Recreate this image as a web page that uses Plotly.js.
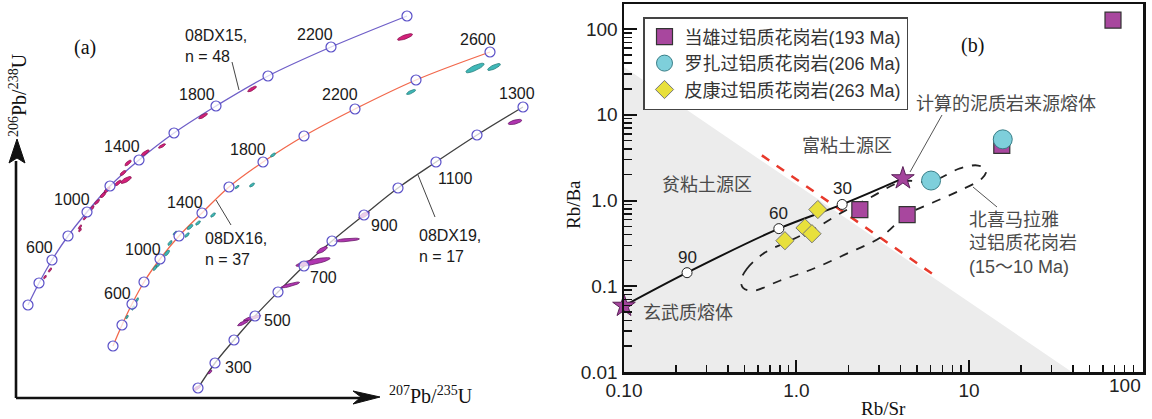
<!DOCTYPE html>
<html><head><meta charset="utf-8">
<script src="https://cdn.plot.ly/plotly-3.0.1.min.js"></script>
<style>html,body{margin:0;padding:0;background:#fff;}#plot{width:1152px;height:419px;}</style>
</head><body><div id="plot"></div>
<script>
// ---------- Panel (a): schematic concordia diagrams (arbitrary plot units, no scale) ----------
const ages15 = [200,400,600,800,1000,1200,1400,1600,1800,2000,2200,2400];
const x15 = [28,39,52,68,87,110,139,174,216,268,331,407];
const y15 = [114,136,159,183,207,233,259,286,313,343,372,403];
const ages16 = [200,400,600,800,1000,1200,1400,1600,1800,2000,2200,2400,2600];
const x16 = [113,122,132,144,160,179,202,229,263,304,355,416,490];
const y16 = [73,94,115,137,160,183,206,232,257,283,310,339,367];
const ages19 = [200,300,400,500,600,700,800,900,1000,1100,1200,1300];
const x19 = [198,215,234,255,278,304,332,364,398,436,477,523];
const y19 = [31,56,79,103,127,153,178,204,231,257,284,312];

// labelled ages and label positions
const lab15 = ["600","1000","1400","1800","2200"];
const lab15x = [39,72,122,197,315];
const lab15y = [172,220,273,325,385];
const lab16 = ["600","1000","1400","1800","2200","2600"];
const lab16x = [117,143,185,248,340,478];
const lab16y = [126,170,217,270,325,380];
const lab19 = ["300","500","700","900","1100","1300"];
const lab19x = [238,277,323,384,455,517];
const lab19y = [52,99,142,194,241,326];

// analysis ellipses: centre x, centre y, length, width, angle
const e15x = [405,252,203,162,145,128,123,126,118,107,103,97,92,85,80,80,50,45];
const e15y = [382,330,303,273,266,256,246,239,236,229,224,217,211,201,192,189,149,142];
const e15l = [16,10,10,8,10,8,7,12,8,8,7,7,6,5,5,4,5,4];
const e15w = [4,3,3,2.5,3,3,3,4,3,3,3,2.5,2.5,2,2,2,2,2];
const e15a = [20,30,30,30,35,40,40,30,40,45,45,45,50,50,55,55,55,55];

const e16x = [475,494,411,273,252,237,213,198,190,187,175,170,167,158,155,137,133,127];
const e16y = [351,352,327,264,234,232,204,196,192,184,186,176,166,154,151,119,111,102];
const e16l = [20,14,10,6,6,5,6,6,7,6,5,6,7,6,6,5,5,4];
const e16w = [5,4,3,2.5,2.5,2,2.5,2.5,3,2.5,2,2.5,3,2.5,2.5,2,2,2];
const e16a = [25,25,25,35,35,35,40,40,40,45,45,50,50,50,55,60,60,60];

const e19x = [515,364,347,322,313,290,252,243,210,197];
const e19y = [297,204,179,169,157,134,101,96,47,31];
const e19l = [14,12,25,12,35,20,18,12,5,8];
const e19w = [4,4,3,4,5,3,3,3,2,3];
const e19a = [15,30,5,30,12,15,15,25,45,30];

const sampleNames = ["08DX15,<br>n = 48","08DX16,<br>n = 37","08DX19,<br>n = 17"];

// ---------- Panel (b): Rb/Sr vs Rb/Ba ----------
const dxRbSr = [68.4, 15.5, 2.33, 4.38];
const dxRbBa = [127, 4.4, 0.785, 0.686];
const lzRbSr = [15.7, 6.03];
const lzRbBa = [5.17, 1.71];
const pkRbSr = [1.33, 0.857, 1.12, 1.23];
const pkRbBa = [0.785, 0.34, 0.48, 0.41];
const mixRbSr = [0.1, 0.232, 0.79, 1.84, 4.14];
const mixRbBa = [0.059, 0.144, 0.47, 0.90, 1.81];
const mixPctRbSr = [0.232, 0.79, 1.84];
const mixPctRbBa = [0.144, 0.47, 0.90];
const mixPct = ["90","60","30"];
const endRbSr = [0.1, 4.14];
const endRbBa = [0.059, 1.81];
const nhRbSr = [0.477,0.516,0.656,0.916,1.28,1.79,2.67,4.14,6.02,8.87,11.3,12.6,11.9,8.87,6.18,4.38,3.05,1.96,1.25,0.80,0.560,0.490,0.477];
const nhRbBa = [0.116,0.160,0.247,0.340,0.471,0.705,1.08,1.67,1.67,2.37,2.56,2.24,1.81,1.31,0.948,0.686,0.369,0.240,0.160,0.116,0.0885,0.096,0.116];
const clayRbSr = [0.1, 39.5, 0.1, 0.1];
const clayRbBa = [36, 0.01, 0.01, 36];
const divRbSr = [0.63, 6.35];
const divRbBa = [3.36, 0.133];
const legendNames = ["当雄过铝质花岗岩(193 Ma)","罗扎过铝质花岗岩(206 Ma)","皮康过铝质花岗岩(263 Ma)"];
const xTickVals = [0.1, 1, 10];
const xTickText = ["0.10", "1.0", "10"];
const xLastTickVal = 100;
const xLastTickText = "100";
const yTickVals = [0.01, 0.1, 1, 10, 100];
const yTickText = ["0.01", "0.1", "1.0", "10", "100"];

// ---------- helpers ----------
const W = 1152, H = 419;
const px = v => v / W, py = v => 1 - v / H;
function ellipses(cx, cy, L, Wd, A){
  const X = [], Y = [];
  for (let i = 0; i < cx.length; i++){
    const a = L[i]/2, b = Wd[i]/2, t = A[i]*Math.PI/180;
    for (let k = 0; k <= 24; k++){
      const s = 2*Math.PI*k/24;
      const ex = a*Math.cos(s), ey = b*Math.sin(s);
      X.push(cx[i] + ex*Math.cos(t) - ey*Math.sin(t));
      Y.push(cy[i] + ex*Math.sin(t) + ey*Math.cos(t));
    }
    X.push(null); Y.push(null);
  }
  return {X, Y};
}
const SANS = "Liberation Sans, Arial, Noto Sans CJK SC, sans-serif";
const CJK = "Liberation Sans, Noto Sans CJK SC, sans-serif";
const SERIF = "Liberation Serif, Times New Roman, serif";

const traces = [];
function ellTrace(cx, cy, L, Wd, A, fill, line){
  const e = ellipses(cx, cy, L, Wd, A);
  traces.push({x:e.X, y:e.Y, xaxis:'x', yaxis:'y', mode:'lines', fill:'toself', fillcolor:fill,
    line:{color:line, width:0.8}, showlegend:false, hoverinfo:'skip'});
}
function curveTrace(x, y, color){
  traces.push({x, y, xaxis:'x', yaxis:'y', mode:'lines', line:{color, width:1.3, shape:'spline'},
    showlegend:false, hoverinfo:'skip'});
}
curveTrace(x15, y15, '#6f5fc8');
curveTrace(x16, y16, '#f2684c');
curveTrace(x19, y19, '#404040');
ellTrace(e15x, e15y, e15l, e15w, e15a, '#d4207a', '#8a1450');
ellTrace(e16x, e16y, e16l, e16w, e16a, '#3fb8b8', '#24807e');
ellTrace(e19x, e19y, e19l, e19w, e19a, '#b035b0', '#6a1a6a');
[[x15,y15],[x16,y16],[x19,y19]].forEach(d => traces.push({x:d[0], y:d[1], xaxis:'x', yaxis:'y', mode:'markers',
  marker:{symbol:'circle', size:10, color:'rgba(255,255,255,0.75)', line:{color:'#5a50c8', width:1.2}}, showlegend:false, hoverinfo:'skip'}));

// panel b traces
traces.push({x:clayRbSr, y:clayRbBa, xaxis:'x2', yaxis:'y2', mode:'lines', fill:'toself', fillcolor:'#ececec',
  line:{width:0, color:'rgba(0,0,0,0)'}, showlegend:false, hoverinfo:'skip'});
traces.push({x:divRbSr, y:divRbBa, xaxis:'x2', yaxis:'y2', mode:'lines', line:{color:'#e8392b', width:2.5, dash:'dash'}, showlegend:false, hoverinfo:'skip'});
traces.push({x:nhRbSr, y:nhRbBa, xaxis:'x2', yaxis:'y2', mode:'lines', line:{color:'#222', width:1.8, dash:'dash', shape:'spline'}, showlegend:false, hoverinfo:'skip'});
traces.push({x:mixRbSr, y:mixRbBa, xaxis:'x2', yaxis:'y2', mode:'lines', line:{color:'#111', width:2, shape:'spline'}, showlegend:false, hoverinfo:'skip'});
traces.push({x:mixPctRbSr, y:mixPctRbBa, xaxis:'x2', yaxis:'y2', mode:'markers',
  marker:{symbol:'circle', size:10, color:'#fff', line:{color:'#222', width:1}}, showlegend:false, hoverinfo:'skip', cliponaxis:false});
traces.push({x:endRbSr, y:endRbBa, xaxis:'x2', yaxis:'y2', mode:'markers', marker:{symbol:'star', size:17, color:'#a4449c', line:{color:'#5a2058', width:1}}, showlegend:false, hoverinfo:'skip', cliponaxis:false});
traces.push({x:dxRbSr, y:dxRbBa, xaxis:'x2', yaxis:'y2', mode:'markers', name:legendNames[0],
  marker:{symbol:'square', size:16, color:'#a8479e', line:{color:'#333', width:1.2}}, hoverinfo:'skip', cliponaxis:false});
traces.push({x:lzRbSr, y:lzRbBa, xaxis:'x2', yaxis:'y2', mode:'markers', name:legendNames[1],
  marker:{symbol:'circle', size:19, color:'#7ecfdb', line:{color:'#3a7f88', width:1}}, hoverinfo:'skip', cliponaxis:false});
traces.push({x:pkRbSr, y:pkRbBa, xaxis:'x2', yaxis:'y2', mode:'markers', name:legendNames[2],
  marker:{symbol:'diamond', size:14, color:'#e8e03c', line:{color:'#777', width:1}}, hoverinfo:'skip', cliponaxis:false});

// ---------- annotations ----------
const ann = [];
function a(x, y, t, o){ ann.push(Object.assign({x, y, text:t, showarrow:false, xref:'x', yref:'y',
  xanchor:'center', yanchor:'middle', font:{family:SANS, size:16, color:'#1a1a1a'}}, o||{})); }
lab15.forEach((t,i)=>a(lab15x[i], lab15y[i], t));
lab16.forEach((t,i)=>a(lab16x[i], lab16y[i], t));
lab19.forEach((t,i)=>a(lab19x[i], lab19y[i], t));
a(183, 394, sampleNames[0], {xanchor:'left', yanchor:'top', align:'left'});
a(203, 191, sampleNames[1], {xanchor:'left', yanchor:'top', align:'left'});
a(417, 194, sampleNames[2], {xanchor:'left', yanchor:'top', align:'left'});
a(85, 372, "(a)", {font:{family:SERIF, size:20, color:'#111'}});
a(18, 324, "<sup>206</sup>Pb/<sup>238</sup>U", {textangle:-90, font:{family:SERIF, size:20, color:'#111'}});
a(431, 24, "<sup>207</sup>Pb/<sup>235</sup>U", {font:{family:SERIF, size:20, color:'#111'}});

// mixing percentages, tied to the data points
mixPct.forEach((t,i)=>ann.push({x:Math.log10(mixPctRbSr[i]), y:Math.log10(mixPctRbBa[i]), xref:'x2', yref:'y2',
  text:t, showarrow:false, xanchor:'center', yanchor:'bottom', yshift:4, font:{family:SANS, size:17, color:'#222'}}));
// rightmost x tick label, right-aligned to its tick so it stays on the page
ann.push({x:Math.log10(xLastTickVal), y:py(385), xref:'x2', yref:'paper', text:xLastTickText, showarrow:false,
  xanchor:'right', xshift:2, yanchor:'middle', font:{family:SANS, size:19, color:'#222'}});

function p(x, y, t, o){ ann.push(Object.assign({x:px(x), y:py(y), text:t, showarrow:false, xref:'paper', yref:'paper',
  xanchor:'center', yanchor:'middle', font:{family:CJK, size:18, color:'#4a4a4a'}}, o||{})); }
p(972, 45, "(b)", {font:{family:SERIF, size:20, color:'#111'}});
p(847, 146, "富粘土源区");
p(707, 185, "贫粘土源区");
p(688, 313, "玄武质熔体");
p(1006, 104, "计算的泥质岩来源熔体");
p(967, 208, "北喜马拉雅<br>过铝质花岗岩<br>(15～10 Ma)", {xanchor:'left', yanchor:'top', align:'left'});
p(573, 205, "Rb/Ba", {textangle:-90, font:{family:SERIF, size:19, color:'#111'}});
p(883, 408, "Rb/Sr", {font:{family:SERIF, size:19, color:'#111'}});

// ---------- shapes ----------
const shapes = [];
function ln(x0,y0,x1,y1,c,w){ shapes.push({type:'line', xref:'x', yref:'y', x0,y0,x1,y1, line:{color:c, width:w}}); }
ln(16, 21, 16, 258, '#111', 2.6);
ln(16, 21, 362, 21, '#111', 2.6);
shapes.push({type:'path', xref:'x', yref:'y', path:'M17,280 L25,256 L17,261 L9,256 Z', fillcolor:'#111', line:{color:'#111', width:1}});
shapes.push({type:'path', xref:'x', yref:'y', path:'M380,22 L353,28 L361,22 L353,15 Z', fillcolor:'#111', line:{color:'#111', width:1}});
ln(232, 357, 239, 329, '#444', 1);
ln(231, 194, 216, 219, '#444', 1);
ln(435, 202, 418, 244, '#444', 1);
function lp(x0,y0,x1,y1){ shapes.push({type:'line', xref:'paper', yref:'paper', x0:px(x0), y0:py(y0), x1:px(x1), y1:py(y1), line:{color:'#555', width:1}}); }
lp(910, 172, 942, 115);
lp(973, 187, 997, 207);

function minorVals(lo, hi){ const v=[]; for(let e=lo;e<hi;e++) for(let m=2;m<=9;m++) v.push(m*Math.pow(10,e)); return v; }

const layout = {
  width: W, height: H, margin:{l:0, r:0, t:0, b:0, autoexpand:false}, paper_bgcolor:'#ffffff', plot_bgcolor:'rgba(0,0,0,0)',
  showlegend: true,
  xaxis:{domain:[0, 560/W], range:[0,560], visible:false, fixedrange:true},
  yaxis:{domain:[0,1], range:[0,419], visible:false, fixedrange:true},
  xaxis2:{domain:[624/W, 1143/W], type:'log', range:[-1, 2.009], anchor:'y2',
    showline:true, mirror:true, linecolor:'#111', linewidth:2.5, showgrid:false, zeroline:false,
    ticks:'inside', ticklen:12, tickwidth:2, tickcolor:'#111',
    tickmode:'array', tickvals:xTickVals, ticktext:xTickText,
    tickfont:{family:SANS, size:19, color:'#222'},
    minor:{tickmode:'array', tickvals:minorVals(-1,2), ticks:'inside', ticklen:7, tickwidth:1.5, tickcolor:'#111', showgrid:false}},
  yaxis2:{domain:[1-372/H, 1-4/H], type:'log', range:[-2, 2.292], anchor:'x2',
    showline:true, mirror:true, linecolor:'#111', linewidth:2.5, showgrid:false, zeroline:false,
    ticks:'inside', ticklen:13, tickwidth:2, tickcolor:'#111',
    tickmode:'array', tickvals:yTickVals, ticktext:yTickText,
    tickfont:{family:SANS, size:19, color:'#222'},
    minor:{tickmode:'array', tickvals:minorVals(-2,3), ticks:'inside', ticklen:8, tickwidth:1.5, tickcolor:'#111', showgrid:false}},
  legend:{x:643/W, y:1-17/H, xanchor:'left', yanchor:'top', bgcolor:'#ffffff', bordercolor:'#444', borderwidth:1.5,
    font:{family:CJK, size:18, color:'#333'}, itemsizing:'trace', tracegroupgap:0},
  annotations: ann, shapes: shapes
};
Plotly.newPlot('plot', traces, layout, {staticPlot:true, displayModeBar:false});
</script></body></html>
